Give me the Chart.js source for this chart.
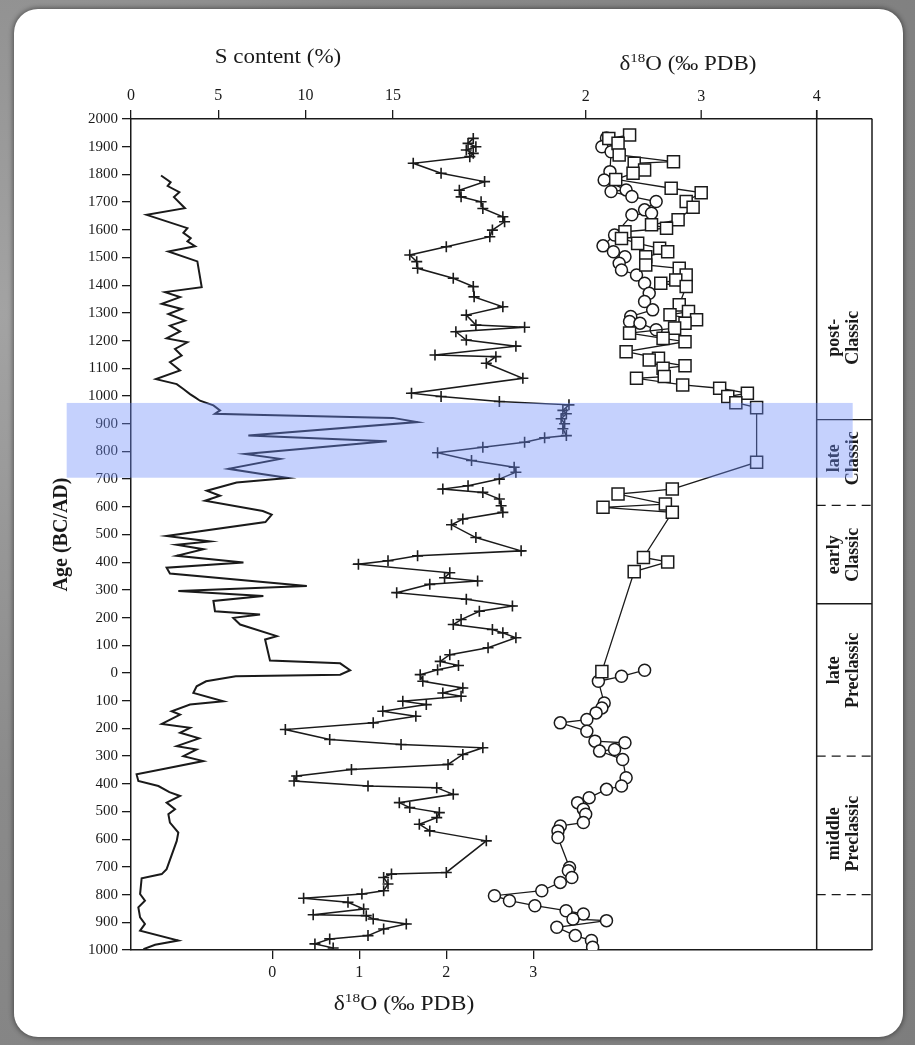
<!DOCTYPE html>
<html>
<head>
<meta charset="utf-8">
<script src="https://cdn.jsdelivr.net/npm/chart.js@4.4.1/dist/chart.umd.min.js"></script>
<style>
  html, body { margin: 0; padding: 0; }
  body {
    width: 915px; height: 1045px; overflow: hidden; position: relative;
    background: radial-gradient(circle at 0 30%, #a3a3a3 0, #8a8a8a 40%, #7d7d7d 100%);
  }
  #card {
    position: absolute; left: 14px; top: 9px; width: 889px; height: 1028px;
    background: #fff; border-radius: 24px;
    box-shadow: 0 0 5px 1px rgba(0, 0, 0, 0.45);
  }
  #chart { position: absolute; left: 0; top: 0; }
</style>
</head>
<body>
<div id="card"></div>
<canvas id="chart" width="915" height="1045"></canvas>
<script>
// S content (%) curve, ages AD positive / BC negative
const sAge = [1796,1772,1758,1736,1718,1678,1654,1606,1589,1570,1558,1541,1522,1486,1393,1375,1357,1333,1314,1296,
  1272,1254,1233,1208,1194,1170,1146,1122,1092,1061,1043,1025,1007,995,983,966,948,936,932,921,
  906,857,837,791,773,737,719,704,688,658,640,622,585,572,545,495,475,463,447,423,
  399,380,359,314,296,278,260,223,211,199,175,133,121,45,35,10,-6,-12,-30,-48,
  -72,-102,-114,-138,-150,-184,-198,-216,-236,-264,-276,-300,-318,-345,-366,-390,-408,-430,-444,-468,
  -492,-510,-540,-576,-606,-708,-726,-741,-798,-822,-846,-882,-906,-930,-966,-981,-997];
const sContent = [1.72,2.27,2.10,2.77,2.46,3.09,0.90,3.23,3.00,3.42,3.23,3.67,2.14,3.80,4.05,1.95,2.81,1.76,2.90,2.14,
  3.09,2.23,2.81,2.04,3.23,2.52,2.90,2.23,2.81,1.43,2.62,3.00,3.38,3.67,3.95,4.72,5.10,4.81,7.0,15.0,
  16.4,6.72,14.65,6.53,8.54,5.58,7.39,9.0,6.05,4.34,5.10,4.24,7.55,8.06,7.7,2.04,4.53,2.62,4.15,2.62,
  6.44,2.04,2.23,10.07,2.71,7.58,4.72,4.81,7.39,5.86,6.25,8.35,7.68,7.96,11.98,12.55,11.98,6.0,4.3,3.76,
  3.57,5.29,3.38,2.33,2.81,1.76,3.38,2.81,3.9,2.62,3.76,3.0,4.14,2.0,0.32,0.42,1.57,2.2,2.81,2.04,
  2.52,2.14,2.23,2.71,2.62,2.04,1.76,0.61,0.52,0.80,0.42,0.52,0.80,0.52,2.71,1.38,0.71];

// δ18O on the bottom scale (+ markers)
const crossAge = [1930,1912,1900,1888,1876,1864,1840,1804,1774,1743,1719,1701,1677,1647,1629,1599,1575,1539,1509,1485,
  1461,1425,1395,1358,1322,1292,1256,1248,1232,1202,1180,1148,1142,1118,1064,1010,998,980,968,948,
  936,918,900,882,857,849,833,815,795,767,743,725,700,676,664,652,628,604,580,556,
  535,489,441,423,405,393,362,344,332,320,290,266,242,223,193,175,157,145,127,91,
  66,42,27,12,-6,-30,-54,-72,-84,-102,-114,-138,-156,-180,-204,-240,-258,-270,-294,-330,
  -348,-372,-390,-408,-414,-438,-468,-486,-504,-522,-546,-570,-606,-720,-726,-738,-762,-786,-798,-813,
  -828,-852,-873,-876,-888,-906,-924,-948,-960,-978,-993];
const crossD18O = [2.31,2.25,2.34,2.23,2.31,2.27,1.62,1.94,2.44,2.15,2.17,2.40,2.42,2.65,2.67,2.53,2.50,2.0,1.58,1.66,
  1.67,2.08,2.31,2.32,2.65,2.23,2.34,2.90,2.11,2.23,2.80,1.87,2.57,2.46,2.88,1.60,1.94,2.61,3.41,3.34,
  3.38,3.32,3.36,3.34,3.38,3.13,2.90,2.42,1.90,2.29,2.78,2.80,2.61,2.25,1.96,2.42,2.61,2.63,2.65,2.19,
  2.06,2.34,2.86,1.67,1.33,0.99,2.04,1.98,2.36,1.81,1.43,2.23,2.76,2.38,2.17,2.08,2.53,2.65,2.80,2.48,
  2.04,1.93,2.14,1.9,1.7,1.73,2.19,1.96,2.17,1.50,1.77,1.27,1.65,1.16,0.15,0.66,1.48,2.42,2.19,2.02,
  0.91,0.28,0.25,1.10,1.89,2.08,1.46,1.58,1.92,1.89,1.69,1.81,2.46,2.0,1.37,1.28,1.33,1.28,1.03,0.36,
  0.87,1.05,0.47,1.08,1.16,1.54,1.28,1.10,0.66,0.49,0.70];

// δ18O on the top scale: squares, and circles (upper and lower runs)
const squareAge = [1942,1930,1912,1870,1846,1840,1816,1804,1782,1750,1734,1702,1681,1636,1618,1606,1593,1569,1551,1533,
  1521,1503,1473,1461,1437,1419,1407,1395,1329,1305,1293,1275,1263,1245,1227,1208,1196,1160,1136,1130,
  1109,1100,1070,1064,1040,1028,1010,998,976,958,761,664,646,610,598,580,417,401,366,5];
const squareD18O = [2.38,2.20,2.28,2.29,2.76,2.42,2.51,2.41,2.26,2.74,3.00,2.87,2.93,2.80,2.57,2.70,2.34,2.31,2.45,2.64,
  2.71,2.52,2.52,2.81,2.87,2.78,2.65,2.87,2.81,2.89,2.73,2.96,2.86,2.77,2.38,2.67,2.86,2.35,2.63,2.55,
  2.86,2.67,2.68,2.44,2.84,3.16,3.40,3.23,3.30,3.48,3.48,2.75,2.28,2.69,2.15,2.75,2.50,2.71,2.42,2.14];
const circleUpAge = [1931,1900,1882,1810,1780,1744,1738,1720,1702,1672,1660,1654,1581,1542,1521,1503,1479,1455,1437,1407,
  1371,1341,1311,1287,1269,1263,1239];
const circleUpD18O = [2.18,2.14,2.22,2.21,2.16,2.35,2.22,2.40,2.61,2.51,2.57,2.40,2.25,2.15,2.24,2.34,2.29,2.31,2.44,2.51,
  2.55,2.51,2.58,2.39,2.38,2.47,2.61];
const circleLowAge = [10,-12,-30,-108,-126,-144,-168,-180,-210,-246,-252,-276,-282,-312,-378,-408,-420,-450,-468,-492,
  -510,-540,-552,-570,-594,-702,-714,-738,-756,-786,-804,-822,-840,-858,-870,-888,-894,-918,-948,-966,-990];
const circleLowD18O = [2.51,2.31,2.11,2.16,2.14,2.09,2.01,1.78,2.01,2.08,2.34,2.25,2.12,2.32,2.35,2.31,2.18,2.03,1.93,1.98,
  2.0,1.98,1.78,1.76,1.76,1.86,1.85,1.88,1.78,1.62,1.21,1.34,1.56,1.83,1.98,1.89,2.18,1.75,1.91,2.05,2.06];

// axis ticks
const sTicks = [0, 5, 10, 15];
const topIsoTicks = [2, 3, 4];
const bottomIsoTicks = [0, 1, 2, 3];

// cultural periods (boundaries in years, label centre ages)
const periodBounds = [915, 605, 250, -300, -800];
const periodDashed = [false, true, false, true, true];
const periodNames = [['post-', 'Classic'], ['late', 'Classic'], ['early', 'Classic'], ['late', 'Preclassic'], ['middle', 'Preclassic']];
const periodLabelAge = [1210, 775, 427, 10, -580];

// highlighted interval
const bandAges = [975, 705];

const ink = '#1a1a1a';
const serif = '"Liberation Serif", "Times New Roman", serif';

const pts = (ages, vals) => ages.map((a, i) => ({ x: vals[i], y: a }));

function seg(ctx, x1, y1, x2, y2) {
  ctx.beginPath();
  ctx.moveTo(x1, y1);
  ctx.lineTo(x2, y2);
  ctx.stroke();
}

// δ18O (‰ PDB) with raised 18, stretched a bit sideways like the scan
function isoTitle(ctx, cx, baseY, size, sx) {
  const big = size + 'px ' + serif;
  const small = Math.round(size * 0.66) + 'px ' + serif;
  ctx.font = big;
  const a = ctx.measureText('δ').width;
  const c = ctx.measureText('O (‰ PDB)').width;
  ctx.font = small;
  const b = ctx.measureText('18').width;
  ctx.save();
  ctx.translate(cx, baseY);
  ctx.scale(sx, 1);
  ctx.textAlign = 'left';
  ctx.textBaseline = 'alphabetic';
  let x = -(a + b + c) / 2;
  ctx.font = big; ctx.fillText('δ', x, 0); x += a;
  ctx.font = small; ctx.fillText('18', x, -size * 0.38); x += b;
  ctx.font = big; ctx.fillText('O (‰ PDB)', x, 0);
  ctx.restore();
}

const extras = {
  id: 'extras',
  afterDraw(chart) {
    const { ctx, chartArea: area, scales } = chart;
    const y = scales.y;
    const xt = scales.xTop;
    ctx.save();
    ctx.strokeStyle = ink;
    ctx.fillStyle = ink;

    // right frame edge and the period column divider
    ctx.lineWidth = 1.5;
    seg(ctx, area.right, area.top, area.right, area.bottom);
    const divX = xt.getPixelForValue(4);
    seg(ctx, divX, area.top - 9, divX, area.bottom);

    // second top scale (δ18O) ticks
    ctx.lineWidth = 1.3;
    ctx.font = '16px ' + serif;
    ctx.textAlign = 'center';
    ctx.textBaseline = 'bottom';
    topIsoTicks.forEach(v => {
      const px = xt.getPixelForValue(v);
      seg(ctx, px, area.top - 9, px, area.top);
      ctx.fillText(String(v), px, area.top - 14);
    });

    // period boundaries
    periodBounds.forEach((age, i) => {
      const py = y.getPixelForValue(age);
      ctx.setLineDash(periodDashed[i] ? [9, 6] : []);
      seg(ctx, divX, py, area.right, py);
    });
    ctx.setLineDash([]);

    // period names, rotated
    const colX = (divX + area.right) / 2;
    ctx.font = 'bold 18px ' + serif;
    ctx.textBaseline = 'middle';
    periodNames.forEach((lines, i) => {
      ctx.save();
      ctx.translate(colX, y.getPixelForValue(periodLabelAge[i]));
      ctx.rotate(-Math.PI / 2);
      ctx.fillText(lines[0], 0, -9.5);
      ctx.fillText(lines[1], 0, 9.5);
      ctx.restore();
    });

    // axis titles
    ctx.save();
    ctx.translate(area.left + 147, 63);
    ctx.scale(1.15, 1);
    ctx.font = '20px ' + serif;
    ctx.textBaseline = 'alphabetic';
    ctx.fillText('S content (%)', 0, 0);
    ctx.restore();
    isoTitle(ctx, area.left + 557, 70, 20, 1.15);
    isoTitle(ctx, area.left + 273, area.bottom + 60, 20, 1.18);

    ctx.save();
    ctx.translate(62, (area.top + area.bottom) / 2);
    ctx.rotate(-Math.PI / 2);
    ctx.font = 'bold 20px ' + serif;
    ctx.textBaseline = 'middle';
    ctx.fillText('Age (BC/AD)', 0, 0);
    ctx.restore();

    // blue highlighted interval on top of everything
    const bx1 = xt.getPixelForValue(-2.494);
    const bx2 = xt.getPixelForValue(4.312);
    const by1 = y.getPixelForValue(bandAges[0]);
    const by2 = y.getPixelForValue(bandAges[1]);
    ctx.fillStyle = 'rgba(110, 140, 250, 0.4)';
    ctx.fillRect(bx1, by1, bx2 - bx1, by2 - by1);
    ctx.restore();
  }
};

const axisGrid = { drawOnChartArea: false, drawTicks: true, tickLength: 9, color: ink, lineWidth: 1.3 };
const axisBorder = { display: true, color: ink, width: 1.5 };

new Chart(document.getElementById('chart'), {
  type: 'scatter',
  data: {
    datasets: [
      {
        data: pts(squareAge, squareD18O), xAxisID: 'xTop', yAxisID: 'y', showLine: true,
        borderColor: ink, borderWidth: 1.3, pointStyle: 'rect', pointRadius: 8.5,
        pointBackgroundColor: '#fff', pointBorderColor: ink, pointBorderWidth: 1.5
      },
      {
        data: pts(circleUpAge, circleUpD18O), xAxisID: 'xTop', yAxisID: 'y', showLine: true,
        borderColor: ink, borderWidth: 1.3, pointStyle: 'circle', pointRadius: 6,
        pointBackgroundColor: '#fff', pointBorderColor: ink, pointBorderWidth: 1.5
      },
      {
        data: pts(circleLowAge, circleLowD18O), xAxisID: 'xTop', yAxisID: 'y', showLine: true,
        borderColor: ink, borderWidth: 1.3, pointStyle: 'circle', pointRadius: 6,
        pointBackgroundColor: '#fff', pointBorderColor: ink, pointBorderWidth: 1.5
      },
      {
        data: pts(crossAge, crossD18O), xAxisID: 'xBot', yAxisID: 'y', showLine: true,
        borderColor: ink, borderWidth: 1.5, pointStyle: 'cross', pointRadius: 5.5,
        pointBorderColor: ink, pointBorderWidth: 1.6
      },
      {
        data: pts(sAge, sContent), xAxisID: 'xS', yAxisID: 'y', showLine: true,
        borderColor: ink, borderWidth: 2, pointRadius: 0
      }
    ]
  },
  options: {
    responsive: false,
    animation: false,
    events: [],
    layout: { padding: { left: 0, top: 0, right: 43, bottom: 0 } },
    plugins: { legend: { display: false }, tooltip: { enabled: false } },
    scales: {
      y: {
        type: 'linear', position: 'left', min: -1000, max: 2000,
        afterFit: s => { s.width = 131; },
        ticks: {
          stepSize: 100, autoSkip: false, color: ink, padding: 4,
          font: { family: 'Liberation Serif', size: 15 },
          callback: v => String(Math.abs(v))
        },
        grid: axisGrid,
        border: axisBorder
      },
      xS: {
        type: 'linear', axis: 'x', position: 'top', min: 0, max: 42.44,
        afterFit: s => { s.height = 119; },
        afterBuildTicks: s => { s.ticks = sTicks.map(v => ({ value: v })); },
        ticks: { color: ink, padding: 5, maxRotation: 0, font: { family: 'Liberation Serif', size: 16 } },
        grid: axisGrid,
        border: axisBorder
      },
      xTop: { type: 'linear', axis: 'x', position: 'top', display: false, min: -1.937, max: 4.479 },
      xBot: {
        type: 'linear', axis: 'x', position: 'bottom', min: -1.624, max: 6.893,
        afterFit: s => { s.height = 95; },
        afterBuildTicks: s => { s.ticks = bottomIsoTicks.map(v => ({ value: v })); },
        ticks: { color: ink, padding: 4, maxRotation: 0, font: { family: 'Liberation Serif', size: 16 } },
        grid: axisGrid,
        border: axisBorder
      }
    }
  },
  plugins: [extras]
});
</script>
</body>
</html>
